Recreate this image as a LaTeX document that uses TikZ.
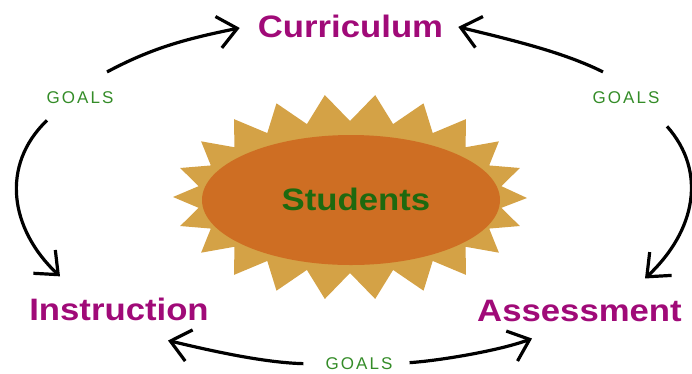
\documentclass[tikz,border=0pt]{standalone}
\usepackage{fontspec}
\setmainfont{Liberation Sans}
\newfontfamily\headfont[FakeStretch=1.12]{Liberation Sans}
\newfontfamily\goalfont[LetterSpace=12]{Liberation Sans}
\usetikzlibrary{arrows.meta}

\definecolor{topicpurple}{RGB}{160,10,120}
\definecolor{goalgreen}{RGB}{52,140,40}
\definecolor{studgreen}{RGB}{30,105,15}
\definecolor{burstgold}{RGB}{212,162,70}
\definecolor{blobrust}{RGB}{206,110,35}

\begin{document}
\begin{tikzpicture}[
    x = 1pt, y = -1pt,
    topic/.style = {anchor=base, inner sep=2pt, text=topicpurple, font=\headfont\bfseries\fontsize{31}{31}\selectfont},
    goal/.style = {anchor=base, inner sep=2pt, text=goalgreen, font=\goalfont\fontsize{17}{17}\selectfont},
    goalarrow/.style = {line width=3.2pt, -{Straight Barb[length=19pt, width=32pt]}}]

\useasboundingbox (0,0) rectangle (692,373);

% The sun with the students
\fill[burstgold] (527,198) \foreach \i in {1,...,43} {
    -- ({350 + (mod(\i,2)==0 ? 177 : 153)*cos(360/44*\i)}, {197 + (mod(\i,2)==0 ? 103 : 76)*sin(360/44*\i)})
} -- cycle;
\fill[blobrust] (351,200) ellipse [x radius=149, y radius=65];
\node[topic, text=studgreen] (students) at (356,210) {Students};

\node[topic] (curric) at (350.5,37) {Curriculum};
\node[topic] (instr) at (119,320) {Instruction};
\node[topic] (assess) at (579.5,321) {Assessment};

\node[goal] (goalL) at (80,103) {GOALS};
\node[goal] (goalR) at (626,103) {GOALS};
\node[goal] (goalB) at (359,369.5) {GOALS};

% Arrows

\draw[goalarrow] ([shift={(27,-17)}]goalL.north) .. controls +(45,-24) and +(-54,11) .. ([shift={(-16,2)}]curric.west);
\draw[goalarrow] ([shift={(-23,-17)}]goalR.north) .. controls +(-40,-20) and +(53,13) .. ([shift={(13,1)}]curric.east);

\draw[goalarrow] ([shift={(-33,15)}]goalL.south) .. controls +(-47,45) and +(-50,-47) .. ([shift={(-59,-19)}]instr.north);
\draw[goalarrow] ([shift={(41,21)}]goalR.south) .. controls +(40,45) and +(51,-48) .. ([shift={(65.5,-19)}]assess.north);

\draw[goalarrow] ([shift={(-20,0)}]goalB.west) .. controls +(-40,-1) and +(42,10) .. ([shift={(49,18)}]instr.south);
\draw[goalarrow] ([shift={(15,-1)}]goalB.east) .. controls +(30,-2) and +(-32,12) .. ([shift={(-47.5,15)}]assess.south);

\end{tikzpicture}
\end{document}
